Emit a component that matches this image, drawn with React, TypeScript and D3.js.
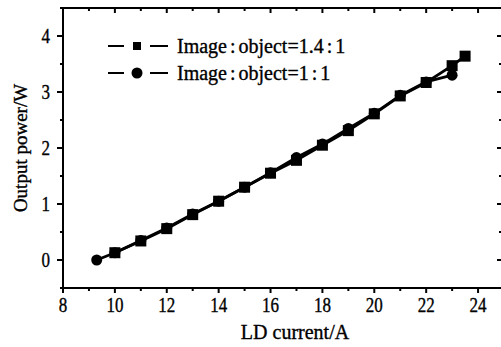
import { useEffect, useRef } from 'react'
import * as d3 from 'd3'

const squareX = [10, 11, 12, 13, 14, 15, 16, 17, 18, 19, 20, 21, 22, 23, 23.5]
const squareY = [0.13, 0.34, 0.56, 0.81, 1.05, 1.3, 1.55, 1.78, 2.05, 2.31, 2.61, 2.93, 3.17, 3.47, 3.64]
const circleX = [9.3, 10, 11, 12, 13, 14, 15, 16, 17, 18, 19, 20, 21, 22, 23]
const circleY = [0, 0.13, 0.35, 0.57, 0.82, 1.05, 1.3, 1.56, 1.83, 2.07, 2.35, 2.62, 2.94, 3.18, 3.3]
const xTicks = [8, 10, 12, 14, 16, 18, 20, 22, 24]
const yTicks = [0, 1, 2, 3, 4]
// legend labels split around the ratio colons
const legendLabels = [['Image', 'object=1.4', '1'], ['Image', 'object=1', '1']]

const FONT = '"Liberation Serif", "Times New Roman", serif'

export default function App() {
  const ref = useRef<SVGSVGElement>(null)

  useEffect(() => {
    const svg = d3.select(ref.current)
    svg.selectAll('*').remove()

    const x = d3.scaleLinear().domain([8, 25]).range([63, 504])
    const y = d3.scaleLinear().domain([-0.5, 4.5]).range([288, 8])
    const xMinor = d3.range(9, 25, 2)
    const yMinor = d3.range(-0.5, 4.6, 1)
    const xAll = d3.range(8, 26, 1)
    const yAll = d3.range(-0.5, 4.6, 0.5)

    const frame = svg.append('g').attr('stroke', '#000').attr('fill', 'none')

    frame.append('rect')
      .attr('x', x(8)).attr('y', y(4.5))
      .attr('width', x(25) - x(8)).attr('height', y(-0.5) - y(4.5))
      .attr('stroke-width', 2)

    // bottom ticks point out, top ticks point in
    xTicks.forEach(t => frame.append('line')
      .attr('x1', x(t)).attr('x2', x(t)).attr('y1', y(-0.5)).attr('y2', y(-0.5) + 5).attr('stroke-width', 2))
    xMinor.forEach(t => frame.append('line')
      .attr('x1', x(t)).attr('x2', x(t)).attr('y1', y(-0.5)).attr('y2', y(-0.5) + 3).attr('stroke-width', 2))
    xAll.forEach(t => frame.append('line')
      .attr('x1', x(t)).attr('x2', x(t)).attr('y1', y(4.5)).attr('y2', y(4.5) + (t % 2 === 0 ? 5 : 3)).attr('stroke-width', 2))
    // left ticks out, right ticks in
    yTicks.forEach(t => frame.append('line')
      .attr('x1', x(8) - 6).attr('x2', x(8)).attr('y1', y(t)).attr('y2', y(t)).attr('stroke-width', 2))
    yMinor.forEach(t => frame.append('line')
      .attr('x1', x(8) - 3).attr('x2', x(8)).attr('y1', y(t)).attr('y2', y(t)).attr('stroke-width', 2))
    yAll.forEach(t => frame.append('line')
      .attr('x1', x(25) - (Number.isInteger(t) ? 7 : 5)).attr('x2', x(25)).attr('y1', y(t)).attr('y2', y(t)).attr('stroke-width', 2))

    const labels = svg.append('g')
      .attr('font-family', FONT).attr('fill', '#000')
      .attr('stroke', '#000').attr('stroke-width', 0.35)

    xTicks.forEach(t => labels.append('text')
      .attr('transform', `translate(${x(t)},${y(-0.5) + 24}) scale(0.85,1)`)
      .attr('font-size', 20).attr('text-anchor', 'middle').text(t))
    yTicks.forEach(t => labels.append('text')
      .attr('transform', `translate(${x(8) - 13},${y(t)}) scale(0.85,1)`)
      .attr('font-size', 20).attr('dy', '0.35em').attr('text-anchor', 'end').text(t))

    labels.append('text')
      .attr('x', 295).attr('y', 339).attr('font-size', 20)
      .attr('text-anchor', 'middle').text('LD current/A')
    labels.append('text')
      .attr('transform', 'translate(27,148) rotate(-90)')
      .attr('font-size', 19).attr('text-anchor', 'middle').text('Output power/W')

    const line = d3.line<[number, number]>().x(d => x(d[0])).y(d => y(d[1]))
    const sq = squareX.map((v, i) => [v, squareY[i]] as [number, number])
    const ci = circleX.map((v, i) => [v, circleY[i]] as [number, number])

    svg.append('path').attr('d', line(ci)).attr('fill', 'none').attr('stroke', '#000').attr('stroke-width', 2.8)
    svg.append('path').attr('d', line(sq)).attr('fill', 'none').attr('stroke', '#000').attr('stroke-width', 2.8)

    svg.append('g').selectAll('circle').data(ci).enter().append('circle')
      .attr('cx', d => x(d[0])).attr('cy', d => y(d[1])).attr('r', 5.5).attr('fill', '#000')
    svg.append('g').selectAll('rect').data(sq).enter().append('rect')
      .attr('x', d => x(d[0]) - 5.5).attr('y', d => y(d[1]) - 5.5)
      .attr('width', 11).attr('height', 11).attr('fill', '#000')

    // legend
    const lg = svg.append('g')
    ;[46, 73].forEach((ly, i) => {
      lg.append('line').attr('x1', 108).attr('x2', 124).attr('y1', ly).attr('y2', ly).attr('stroke', '#000').attr('stroke-width', 2)
      lg.append('line').attr('x1', 150).attr('x2', 168).attr('y1', ly).attr('y2', ly).attr('stroke', '#000').attr('stroke-width', 2)
      if (i === 0) {
        lg.append('rect').attr('x', 133).attr('y', ly - 4).attr('width', 8).attr('height', 8).attr('fill', '#000')
      } else {
        lg.append('circle').attr('cx', 137).attr('cy', ly).attr('r', 5.5).attr('fill', '#000')
      }
      const [a, b, c] = legendLabels[i]
      const txt = lg.append('text')
        .attr('x', 177).attr('y', ly).attr('dy', '0.35em')
        .attr('font-family', FONT).attr('font-size', 20)
        .attr('stroke', '#000').attr('stroke-width', 0.35)
      txt.append('tspan').text(a)
      txt.append('tspan').attr('dx', 3).text(':')
      txt.append('tspan').attr('dx', 3).text(b)
      txt.append('tspan').attr('dx', 3).text(':')
      txt.append('tspan').attr('dx', 3).text(c)
    })
  }, [])

  return (
    <svg ref={ref} width={501} height={347}
      style={{ position: 'absolute', left: 0, top: 0, background: '#fff' }} />
  )
}
